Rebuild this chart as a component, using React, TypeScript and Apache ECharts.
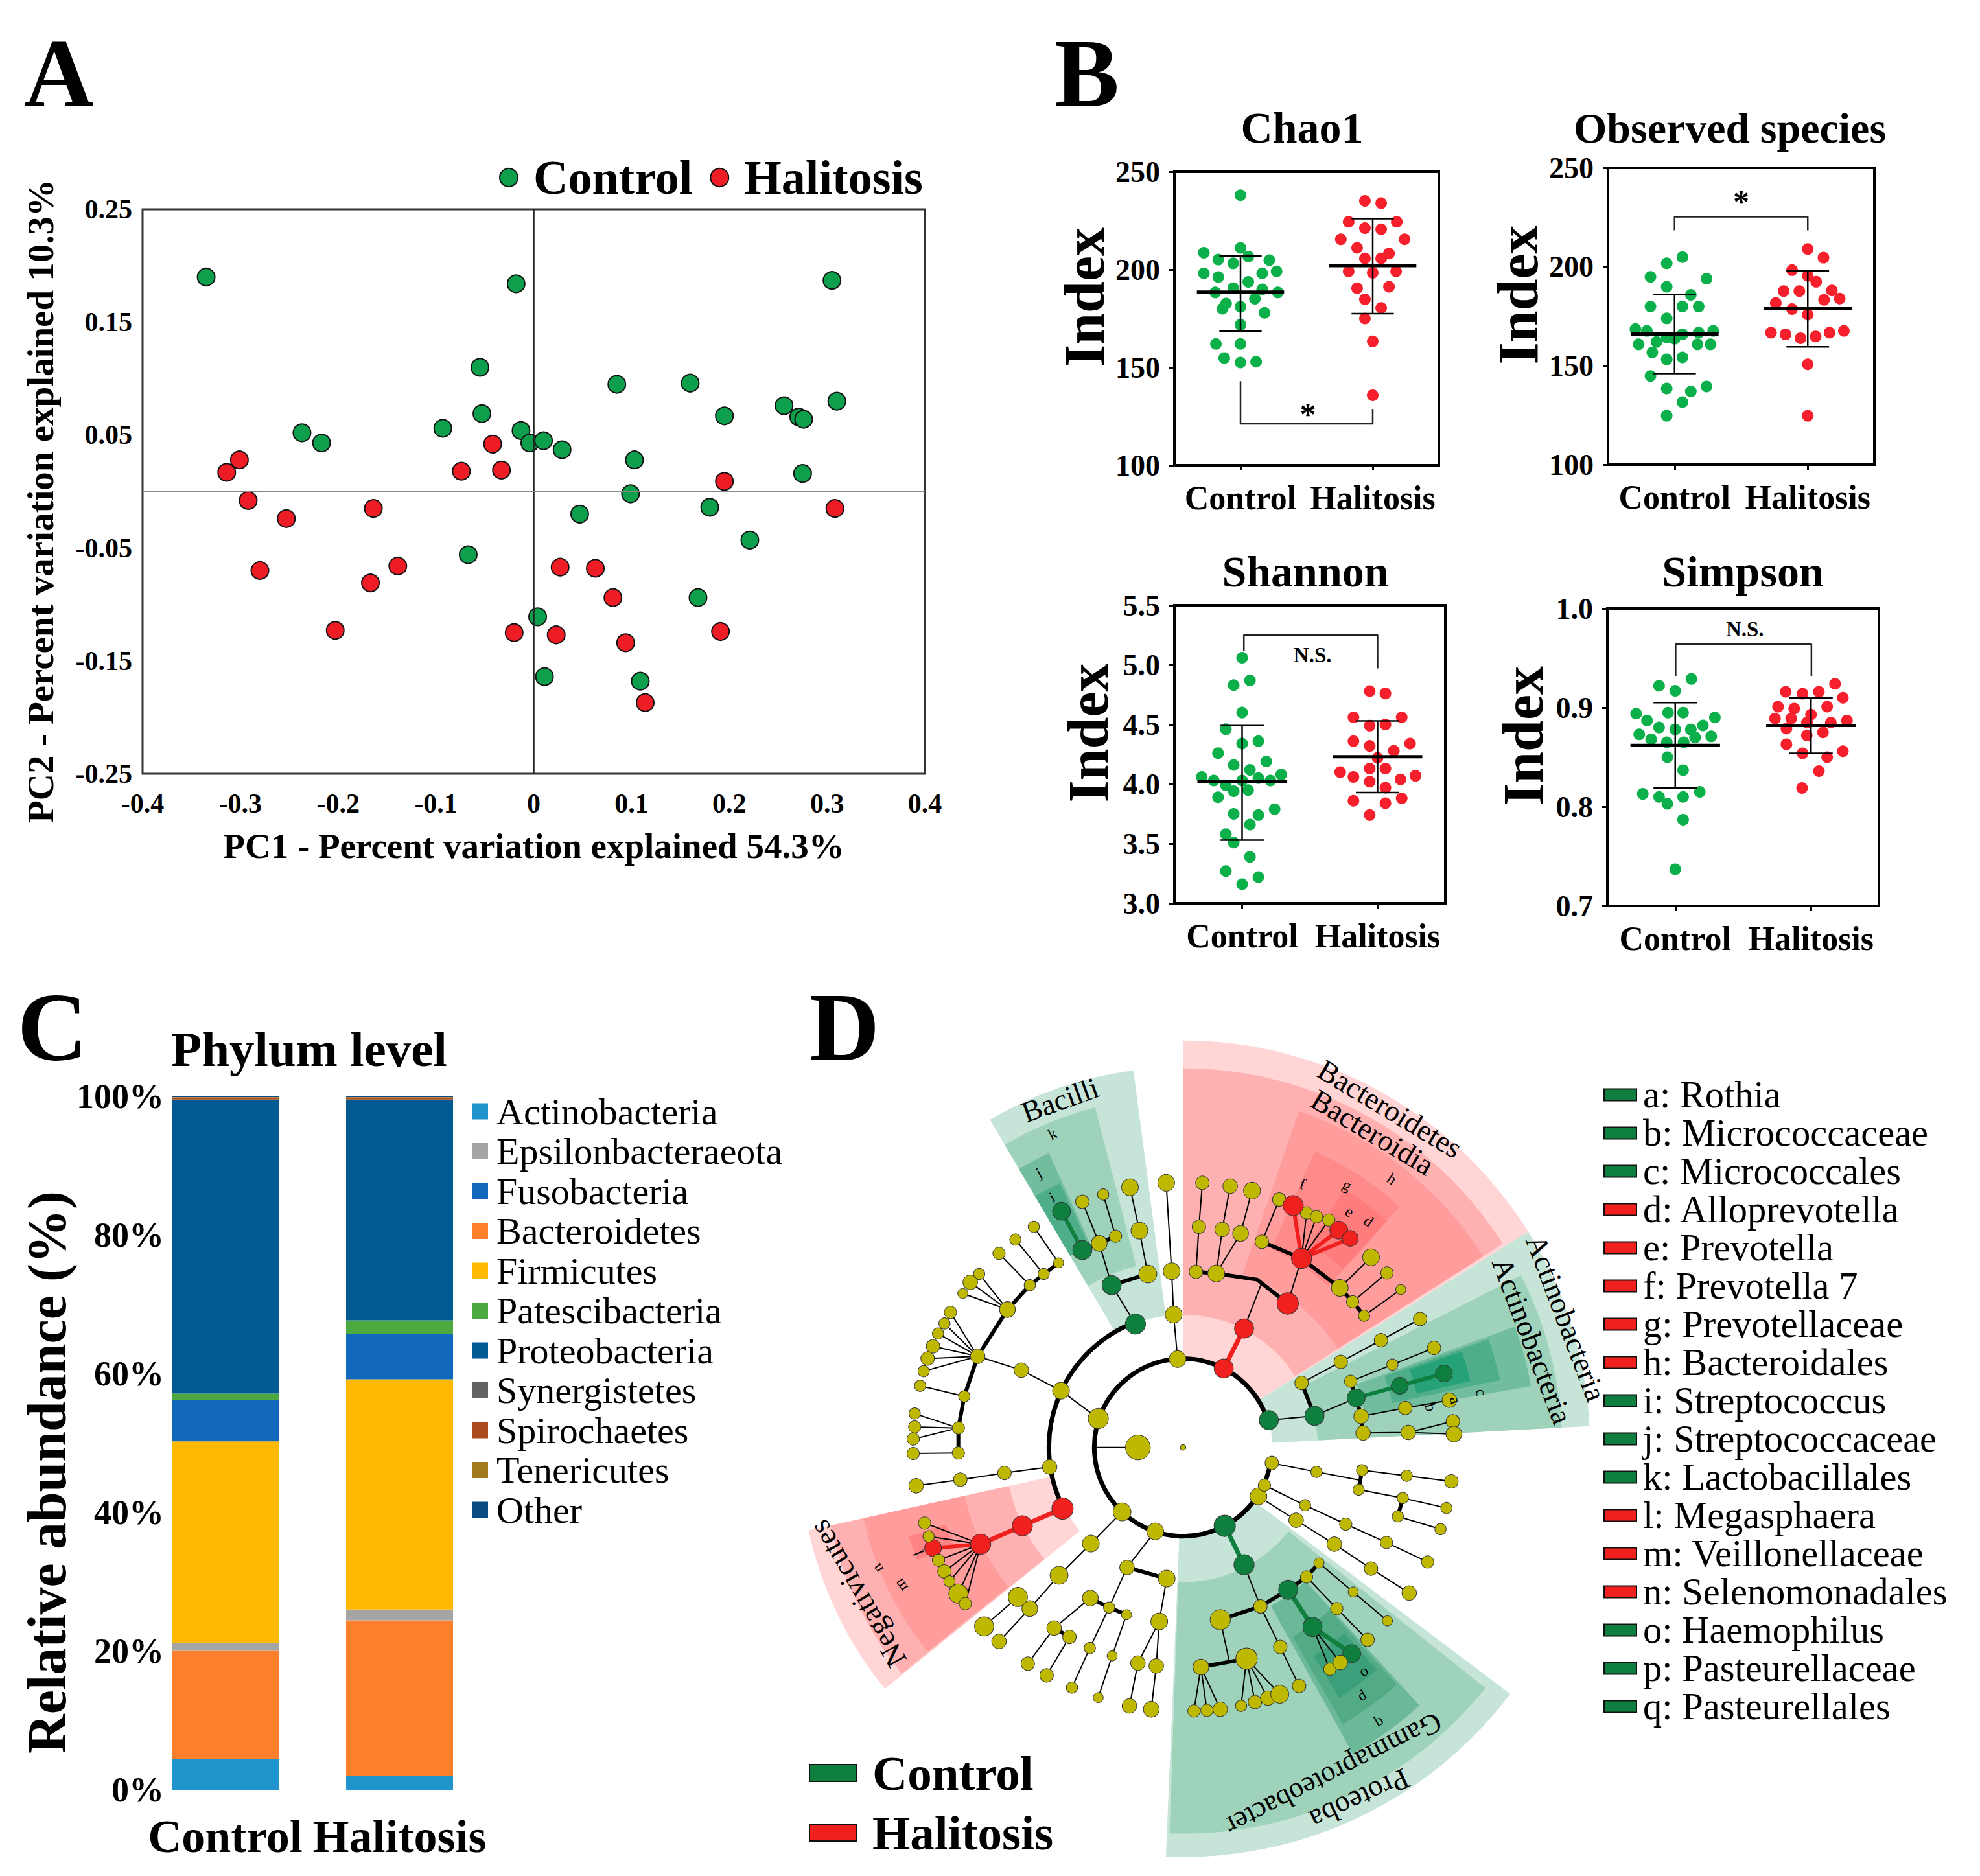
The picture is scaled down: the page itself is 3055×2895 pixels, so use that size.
import React, { useEffect, useRef } from "react";
import * as echarts from "echarts";

const FONT = "Liberation Serif";

// ---------- Panel A: PCoA ----------
const pcoaControl = [[-0.335,0.19],[-0.018,0.184],[0.305,0.187],[-0.055,0.11],[0.085,0.095],[0.16,0.096],[0.256,0.076],[0.31,0.08],[0.271,0.066],[0.276,0.064],[0.195,0.067],[-0.053,0.069],[-0.093,0.056],[-0.013,0.054],[-0.004,0.043],[0.01,0.045],[0.029,0.037],[-0.237,0.052],[-0.217,0.043],[0.103,0.028],[0.275,0.016],[0.099,-0.002],[0.18,-0.014],[0.047,-0.02],[0.221,-0.043],[-0.067,-0.056],[0.168,-0.094],[0.004,-0.111],[0.011,-0.164],[0.109,-0.168]];
const pcoaHalitosis = [[-0.314,0.017],[-0.301,0.028],[-0.292,-0.008],[-0.253,-0.024],[-0.164,-0.015],[-0.28,-0.07],[-0.139,-0.066],[-0.167,-0.081],[-0.203,-0.123],[-0.074,0.018],[-0.042,0.042],[-0.033,0.019],[0.195,0.009],[0.308,-0.015],[0.027,-0.067],[0.063,-0.068],[0.081,-0.094],[-0.02,-0.125],[0.023,-0.127],[0.094,-0.134],[0.191,-0.124],[0.114,-0.187]];

// ---------- Panel B: alpha diversity (jitter offset, value) ----------
const chao1Control = [[0,238],[-0.277,208.6],[-0.168,205.1],[0,211.1],[0.059,206.7],[0.218,204.8],[-0.277,198.1],[-0.168,196.2],[-0.055,203.2],[0.164,198.1],[0.273,199.1],[0.059,193.7],[-0.055,190.5],[-0.191,188.3],[0.164,189.9],[0.282,188.3],[-0.109,182.6],[0,181],[0.109,185.1],[-0.136,180],[0.182,177.9],[0,171.8],[-0.186,162],[0,162],[-0.123,154.8],[0,152.5],[0.118,152.9]];
const chao1Halitosis = [[0.941,235.1],[1.064,233.9],[0.818,224.4],[1.182,224.4],[0.941,221.2],[1.064,220.6],[0.759,215.5],[0.882,211.1],[1.241,215.5],[1.123,208.2],[0.941,205.7],[1.064,205.7],[0.818,199.1],[1,198.4],[1.177,199.1],[0.882,190.5],[1.123,191.2],[0.941,184.8],[1.064,180.4],[0.941,175],[1,163.3],[1,135.8]];
const observedControl = [[0.059,204.9],[-0.059,201.8],[-0.181,194.9],[0.24,194],[-0.059,189.9],[0.122,185.8],[-0.181,179.9],[0.059,179.9],[0.181,179.9],[-0.059,173.9],[-0.294,168.5],[-0.208,167.6],[0.29,167.6],[0.181,166.7],[0.059,165.8],[-0.059,164.2],[-0.27,160.8],[-0.136,162],[0,163.6],[0.172,160.8],[0.27,160.8],[-0.167,156.7],[-0.059,153.2],[0.059,154.2],[-0.181,144.8],[-0.059,138.5],[0.122,137],[0.24,139.5],[0.059,131.6],[-0.059,124.7]];
const observedHalitosis = [[1,209],[1.118,204.6],[0.882,198.3],[1,195.5],[1.063,192.4],[0.819,187.7],[0.937,187.7],[1.181,188],[1.24,183.9],[0.76,181.7],[1.122,183.3],[0.882,178.6],[1,175.8],[0.724,166.7],[0.833,165.8],[0.946,163.9],[1.059,164.8],[1.163,166.7],[1.271,167.6],[1,150.7],[1,124.7]];
const shannonControl = [[0,5.06],[0.058,4.87],[-0.062,4.83],[0,4.6],[-0.12,4.46],[0.12,4.36],[0,4.34],[-0.178,4.26],[-0.062,4.16],[0.178,4.19],[0.058,4.12],[-0.298,4.06],[-0.209,4.03],[0.209,4.03],[0.289,4.08],[0.12,4.05],[0,4.03],[-0.12,3.99],[-0.062,3.94],[0.044,3.95],[-0.178,3.89],[0.24,3.79],[-0.062,3.75],[0.12,3.74],[0.058,3.66],[-0.12,3.58],[-0.062,3.51],[0.058,3.39],[-0.12,3.27],[0.12,3.22],[0,3.16]];
const shannonHalitosis = [[0.942,4.78],[1.058,4.76],[0.822,4.56],[1.178,4.56],[0.942,4.49],[1.058,4.5],[0.822,4.36],[1.24,4.34],[0.942,4.32],[1.12,4.28],[1,4.22],[0.724,4.1],[0.942,4.13],[0.822,4.06],[1.058,4.13],[0.942,4.02],[1.169,4.04],[1.28,4.07],[1.058,3.97],[0.822,3.86],[1.178,3.88],[1.058,3.84],[0.942,3.74]];
const simpsonControl = [[0.119,0.929],[-0.119,0.922],[0,0.917],[-0.288,0.894],[0.292,0.89],[-0.208,0.887],[-0.119,0.88],[0,0.878],[0.115,0.878],[0.204,0.882],[-0.265,0.873],[0.265,0.871],[-0.177,0.868],[-0.062,0.865],[0.062,0.865],[0.146,0.87],[-0.058,0.85],[0.058,0.837],[-0.239,0.813],[-0.119,0.81],[-0.058,0.803],[0.058,0.81],[0.181,0.815],[0.058,0.787],[0,0.737],[-0.053,0.895],[0.058,0.895]];
const simpsonHalitosis = [[1.177,0.924],[0.814,0.916],[0.938,0.914],[1.058,0.916],[1.235,0.91],[0.757,0.901],[0.876,0.899],[1.119,0.901],[1,0.893],[0.735,0.889],[0.854,0.889],[1.265,0.887],[1.146,0.885],[0.97,0.885],[0.819,0.879],[1.088,0.875],[0.969,0.872],[0.819,0.863],[0.938,0.854],[1.119,0.85],[1.235,0.856],[1.058,0.836],[0.934,0.819]];
// mean, lower whisker, upper whisker
const chao1Stats = [[0,188.5,168.5,207],[1,202,177.5,226]];
const observedStats = [[0,166,146,186],[1,179,159.5,198]];
const shannonStats = [[0,4.02,3.53,4.49],[1,4.23,3.93,4.53]];
const simpsonStats = [[0,0.862,0.819,0.905],[1,0.882,0.854,0.91]];
const chao1Bracket = [[0,143],[0,121.2],[1,121.2],[1,128.8]];
const observedBracket = [[0,218.4],[0,225.3],[1,225.3],[1,218.4]];
const shannonBracket = [[0.013,5.12],[0.013,5.25],[1,5.25],[1,4.97]];
const simpsonBracket = [[0.003,0.932],[0.003,0.964],[1.003,0.964],[1.003,0.932]];

// ---------- Panel C: stacked phylum composition ----------
const groups = ["Control", "Halitosis"];
const phylaStack = ["Actinobacteria","Bacteroidetes","Epsilonbacteraeota","Firmicutes","Fusobacteria","Patescibacteria","Proteobacteria","Synergistetes","Spirochaetes","Tenericutes","Other"];
const phylaLegend = ["Actinobacteria","Epsilonbacteraeota","Fusobacteria","Bacteroidetes","Firmicutes","Patescibacteria","Proteobacteria","Synergistetes","Spirochaetes","Tenericutes","Other"];
const phylaValues = {
  Actinobacteria: [4.4, 2.0], Bacteroidetes: [15.65, 22.45], Epsilonbacteraeota: [1.15, 1.55], Firmicutes: [29.05, 33.2],
  Fusobacteria: [5.95, 6.6], Patescibacteria: [0.95, 1.9], Proteobacteria: [42.35, 31.8], Synergistetes: [0.05, 0.05],
  Spirochaetes: [0.3, 0.3], Tenericutes: [0.05, 0.05], Other: [0.1, 0.1],
};
const phylaColors = {
  Actinobacteria: "#1f94cd", Epsilonbacteraeota: "#a5a5a5", Fusobacteria: "#1268bb", Bacteroidetes: "#fd7e2b", Firmicutes: "#ffb900",
  Patescibacteria: "#4ca93f", Proteobacteria: "#015a92", Synergistetes: "#636363", Spirochaetes: "#ab4a1c", Tenericutes: "#a37a1a", Other: "#0b4a83",
};

// ---------- Panel D: cladogram ----------
const cladeLegend = [
  ["a: Rothia","g"],["b: Micrococcaceae","g"],["c: Micrococcales","g"],["d: Alloprevotella","r"],["e: Prevotella","r"],["f: Prevotella 7","r"],
  ["g: Prevotellaceae","r"],["h: Bacteroidales","r"],["i: Streptococcus","g"],["j: Streptococcaceae","g"],["k: Lactobacillales","g"],["l: Megasphaera","r"],
  ["m: Veillonellaceae","r"],["n: Selenomonadales","r"],["o: Haemophilus","g"],["p: Pasteurellaceae","g"],["q: Pasteurellales","g"],
];
// start angle, end angle (deg, counter-clockwise), inner radius, outer radius, colour
const cladeSectors = [
  [32,90,135,628,"#ffd5d5"],[32.5,90,205,585,"#ffb0b0"],[32.5,71,283,549,"#ff9c9c"],[48,66,335,500,"#ff8a8a"],[48,58,370,470,"#ff7c7c"],
  [97.5,120.5,205,587,"#c6e5d8"],[104.5,120.5,289,542,"#9fd2ba"],[114.5,120.5,343,499,"#72bd9e"],[115,120.5,343,450,"#4fae8a"],
  [3,32,138,628,"#c6e5d8"],[3,27,208,585,"#9fd2ba"],[10,20,285,545,"#72bd9e"],[12,19.5,330,500,"#4fae8a"],[13,19,370,455,"#25a277"],
  [-92.4,-37,140,632,"#c6e5d8"],[-92,-38.5,208,596,"#9fd2ba"],[-61,-47.5,280,540,"#6cb99a"],[-60,-48,338,493,"#52ab85"],[-58,-49,380,455,"#3a9f7a"],
  [192.5,219,205,592,"#ffd5d5"],[192.5,218.8,275,557,"#ffb0b0"],[192.5,218.6,345,505,"#ff9c9c"],[198,203,385,445,"#ff8585"],
];
// radius, start angle, end angle
const cladeRings = [[137,17.6,350],[207,111,207]];
// line width, colour key, then polyline vertices
const cladeLinks = [
  [2,"k",780,638,772,558,768,480,757,321],[7,"r",873,655,914,583],[2,"k",914,583,950,500],[5,"k",817,481,858,484,940,495,1002,538],[2,"k",1002,538,1030,457],
  [5,"k",950,427,1030,457,1107,510,1133,535,1156,560],[2,"k",950,427,985,351],[5,"r",1030,457,1013,362],[5,"r",1030,457,1105,406],[5,"r",1030,457,1128,421],
  [2,"k",1030,457,1040,375],[2,"k",1030,457,1060,382],[2,"k",1030,457,1085,388],[2,"k",817,481,823,400,830,321],[2,"k",858,484,870,405,886,327],[2,"k",858,484,907,412,930,335],
  [2,"k",1107,510,1170,455],[2,"k",1133,535,1202,483],[2,"k",1156,560,1230,513],
  [2,"k",695,575,647,505],[5,"k",647,505,720,485],[2,"k",720,485,703,407,684,329],[2,"k",647,505,622,430],[5,"k",588,442,622,430,655,417],[2,"k",622,430,588,355],[2,"k",655,417,630,342],[6,"g",588,442,546,372],
  [2,"k",620,745,545,695,465,658,377,633],[5,"k",338,807,338,762,350,705,377,633,437,549,482,505,540,465],[2,"k",540,465,490,400],[2,"k",510,485,453,423],[2,"k",482,505,420,448],
  [2,"k",437,549,380,485],[2,"k",437,549,362,500],[2,"k",437,549,347,520],[2,"k",377,633,322,554],[2,"k",377,633,310,574],[2,"k",377,633,297,592],[2,"k",377,633,287,615],[2,"k",377,633,276,637],[2,"k",377,633,268,660],
  [2,"k",350,705,261,686],[2,"k",338,762,250,736],[2,"k",338,762,250,760],[2,"k",338,762,247,782],[2,"k",338,807,247,808],[2,"k",612,797,700,797],[2,"k",522,832,431,843,342,855,253,866],
  [7,"r",548,907,467,938,383,971],[6,"r",383,971,287,978],[2,"k",383,971,270,933],[2,"k",383,971,278,957],[2,"k",383,971,298,1000],[2,"k",383,971,310,1020],[2,"k",383,971,320,1038],[2,"k",383,971,338,1060],[2,"k",383,971,352,1078],
  [2,"k",668,913,605,970,541,1027,482,1087,420,1146],[5,"k",458,1066,482,1087],[2,"k",458,1066,390,1119],[2,"k",735,948,678,1013],[5,"k",678,1013,758,1033],[2,"k",758,1033,743,1110,737,1190,727,1268],[2,"k",743,1110,700,1185,683,1262],
  [2,"k",678,1013,642,1085],[5,"k",604,1068,642,1085,677,1098],[2,"k",604,1068,531,1122,478,1186],[5,"k",531,1122,562,1138],[2,"k",562,1138,516,1207],[2,"k",642,1085,603,1158,567,1229],[2,"k",677,1098,648,1172,620,1247],
  [7,"g",875,938,914,1008],[2,"k",914,1008,947,1083],[5,"k",866,1107,947,1083,1003,1053,1040,1030,1065,1005],[2,"k",866,1107,885,1185],[5,"k",827,1192,919,1177],
  [2,"k",827,1192,813,1271],[2,"k",827,1192,839,1270],[2,"k",827,1192,866,1268],[2,"k",919,1177,908,1262],[2,"k",919,1177,936,1255],[2,"k",919,1177,962,1248],[2,"k",919,1177,986,1241],
  [2,"k",947,1083,987,1156,1025,1226],[7,"g",1003,1053,1052,1120,1131,1168],[2,"k",1052,1120,1087,1196],[2,"k",1052,1120,1108,1184],[2,"k",1040,1030,1101,1087,1163,1143],[2,"k",1065,1005,1134,1057,1203,1109],
  [2,"k",943,885,1019,928,1096,971,1170,1015,1247,1059],[2,"k",955,865,1037,901,1119,935,1201,968,1284,1003],[2,"k",970,825,1060,841,1148,856],[2,"k",1152,838,1242,848,1332,858],[5,"k",1152,838,1145,873],
  [2,"k",1145,873,1234,888,1322,906],[5,"k",1234,888,1224,921],[2,"k",1224,921,1310,944],
  [2,"k",964,748,1056,740],[5,"k",1056,740,1030,681],[2,"k",1030,681,1109,643,1190,604,1269,566],[2,"k",1056,740,1140,708],[5,"k",1129,678,1140,708,1150,741,1154,771],[6,"g",1140,708,1228,686,1317,664],
  [2,"k",1129,678,1213,648,1297,618],[2,"k",1150,741,1239,726,1328,712],[2,"k",1154,771,1245,770,1335,750],[2,"k",1245,770,1337,773],
];
// x, y, diameter, colour key
const cladeNodes = [
  [791,797,10,"y"],[700,797,44,"y"],[780,638,30,"y"],[873,655,34,"r"],[964,748,34,"g"],[620,745,36,"y"],[668,913,32,"y"],[735,948,30,"y"],[875,938,38,"g"],[943,885,30,"y"],[955,865,22,"y"],[970,825,24,"y"],
  [772,558,30,"y"],[768,480,30,"y"],[757,321,30,"y"],[914,583,34,"r"],[1002,538,38,"r"],[1030,457,36,"r"],[950,427,24,"y"],[1107,510,30,"y"],[1133,535,22,"y"],[1156,560,20,"y"],
  [985,351,24,"y"],[1040,375,22,"y"],[1060,382,22,"y"],[1085,388,22,"y"],[1013,362,36,"r"],[1105,406,32,"r"],[1128,421,28,"r"],[817,481,24,"y"],[823,400,24,"y"],[830,321,24,"y"],[858,484,30,"y"],[870,405,26,"y"],[886,327,26,"y"],[907,412,28,"y"],[930,335,30,"y"],
  [1170,455,30,"y"],[1202,483,22,"y"],[1230,513,18,"y"],
  [695,575,36,"g"],[647,505,34,"g"],[720,485,32,"y"],[703,407,30,"y"],[684,329,30,"y"],[622,430,28,"y"],[655,417,22,"y"],[630,342,20,"y"],[588,355,24,"y"],[588,442,34,"g"],[546,372,32,"g"],
  [545,695,30,"y"],[465,658,26,"y"],[377,633,26,"y"],[437,549,28,"y"],[482,505,20,"y"],[510,485,20,"y"],[540,465,18,"y"],[350,705,20,"y"],[338,762,22,"y"],[338,807,22,"y"],[490,400,20,"y"],[453,423,20,"y"],[420,448,22,"y"],[380,485,20,"y"],[362,500,26,"y"],[347,520,18,"y"],
  [322,554,22,"y"],[310,574,20,"y"],[297,592,20,"y"],[287,615,24,"y"],[276,637,24,"y"],[268,660,20,"y"],[261,686,20,"y"],[250,736,20,"y"],[250,760,22,"y"],[247,782,22,"y"],[247,808,22,"y"],
  [522,832,26,"y"],[431,843,24,"y"],[342,855,24,"y"],[253,866,26,"y"],[548,907,38,"r"],[467,938,36,"r"],[383,971,36,"r"],[287,978,30,"r"],[270,933,22,"y"],[278,957,20,"y"],[298,1000,22,"y"],[310,1020,24,"y"],[320,1038,20,"y"],[338,1060,34,"y"],[352,1078,22,"y"],
  [605,970,30,"y"],[541,1027,32,"y"],[482,1087,28,"y"],[420,1146,26,"y"],[458,1066,34,"y"],[390,1119,34,"y"],[678,1013,26,"y"],[758,1033,30,"y"],[743,1110,30,"y"],[737,1190,26,"y"],[727,1268,28,"y"],[700,1185,26,"y"],[683,1262,26,"y"],
  [604,1068,28,"y"],[642,1085,20,"y"],[677,1098,18,"y"],[531,1122,26,"y"],[478,1186,24,"y"],[562,1138,24,"y"],[516,1207,24,"y"],[603,1158,20,"y"],[567,1229,20,"y"],[648,1172,18,"y"],[620,1247,18,"y"],
  [914,1008,36,"g"],[947,1083,24,"y"],[866,1107,36,"y"],[1003,1053,34,"g"],[1040,1030,22,"y"],[1065,1005,18,"y"],[827,1192,28,"y"],[919,1177,38,"y"],[813,1271,22,"y"],[839,1270,22,"y"],[866,1268,26,"y"],[908,1262,20,"y"],[936,1255,24,"y"],[962,1248,26,"y"],[986,1241,32,"y"],
  [987,1156,24,"y"],[1025,1226,24,"y"],[1052,1120,34,"g"],[1131,1168,32,"g"],[1087,1196,22,"y"],[1108,1184,26,"y"],[1101,1087,22,"y"],[1163,1143,24,"y"],[1134,1057,18,"y"],[1203,1109,18,"y"],
  [1019,928,26,"y"],[1096,971,26,"y"],[1170,1015,24,"y"],[1247,1059,26,"y"],[1037,901,20,"y"],[1119,935,22,"y"],[1201,968,22,"y"],[1284,1003,22,"y"],[1060,841,20,"y"],[1152,838,20,"y"],[1242,848,20,"y"],[1332,858,24,"y"],[1145,873,20,"y"],[1234,888,20,"y"],[1322,906,20,"y"],[1224,921,20,"y"],[1310,944,20,"y"],
  [1056,740,34,"g"],[1030,681,24,"y"],[1109,643,24,"y"],[1190,604,24,"y"],[1269,566,24,"y"],[1140,708,32,"g"],[1228,686,30,"g"],[1317,664,30,"g"],[1129,678,22,"y"],[1150,741,26,"y"],[1154,771,26,"y"],[1213,648,20,"y"],[1297,618,24,"y"],[1239,726,24,"y"],[1328,712,26,"y"],[1245,770,26,"y"],[1335,750,24,"y"],[1337,773,28,"y"],
];
// x, y, text, rotation (deg), font size
const cladeLabels = [
  [1208,188,"Bacteroidetes",-31,46],[1173,230,"Bacteroidia",-31,46],[543,172,"Bacilli",20,46],[1563,564,"Actinobacteria",-69,46],[1495,605,"Actinobacteria",-69,46],
  [1095,1385,"Gammaproteobacter",207,45],[1147,1430,"Proteoba",205,46],[135,1060,"Negativicutes",120,46],
  [1340,712,"a",-74,24],[1290,725,"b",-74,24],[1392,698,"c",-74,24],[1165,390,"d",-35,24],[1127,373,"e",-35,24],[1032,323,"f",-20,24],[1122,325,"g",-28,24],[1212,314,"h",-35,24],
  [527,347,"i",28,24],[500,303,"j",28,24],[528,233,"k",28,24],[258,987,"l",113,24],[222,1045,"m",125,24],[175,1015,"n",125,24],[1158,1204,"o",210,24],[1155,1248,"p",210,24],[1188,1293,"q",210,24],
];
const KEY_COLORS = { k: "#000", r: "#f0201f", g: "#0f7f3f", y: "#bfb800" };

const GREEN = "#0cb04a";
const RED = "#f5202b";

function textSeries(rows: any[], xAxisIndex: number, yAxisIndex: number, bold = false) {
  return {
    type: "custom", coordinateSystem: "cartesian2d", xAxisIndex, yAxisIndex, z: 8, silent: true, clip: false,
    encode: { x: 0, y: 1 },
    data: rows.map((r) => [r[0], r[1]]),
    renderItem: (params: any, api: any) => {
      const r = rows[params.dataIndex];
      const p = api.coord([api.value(0), api.value(1)]);
      return {
        type: "text", x: p[0], y: p[1], rotation: ((r[3] || 0) * Math.PI) / 180,
        style: { text: r[2], fontFamily: FONT, fontSize: r[4], fontWeight: bold ? "bold" : "normal", fill: "#000", textAlign: "center", textVerticalAlign: "middle" },
      };
    },
  };
}

function statsSeries(rows: number[][], xAxisIndex: number, yAxisIndex: number) {
  return {
    type: "custom", coordinateSystem: "cartesian2d", xAxisIndex, yAxisIndex, z: 5, silent: true,
    encode: { x: 0, y: 1 },
    data: rows,
    renderItem: (_: any, api: any) => {
      const x = api.value(0), m = api.value(1), lo = api.value(2), hi = api.value(3);
      const seg = (a: number[], b: number[], w: number) => {
        const p = api.coord(a), q = api.coord(b);
        return { type: "line", shape: { x1: p[0], y1: p[1], x2: q[0], y2: q[1] }, style: { stroke: "#000", lineWidth: w } };
      };
      return {
        type: "group",
        children: [
          seg([x, lo], [x, hi], 2.5), seg([x - 0.16, hi], [x + 0.16, hi], 2.5), seg([x - 0.16, lo], [x + 0.16, lo], 2.5), seg([x - 0.33, m], [x + 0.33, m], 5),
        ],
      };
    },
  };
}

function buildOption() {
  const title: any[] = [];
  const grid: any[] = [];
  const xAxis: any[] = [];
  const yAxis: any[] = [];
  const series: any[] = [];
  const legend: any[] = [];

  const addTitle = (text: string, left: number, top: number, fontSize: number) =>
    title.push({ text, left, top, textAlign: "center", textVerticalAlign: "middle", textStyle: { fontFamily: FONT, fontWeight: "bold", fontSize, color: "#000" } });
  addTitle("A", 86, 108, 150);
  addTitle("B", 1672, 108, 150);
  addTitle("C", 76, 1580, 150);
  addTitle("D", 1298, 1580, 150);
  addTitle("Phylum level", 472, 1614, 77);

  // ---- A ----
  grid.push({ left: 220, top: 323, width: 1207, height: 871, show: true, borderColor: "#333", borderWidth: 3, backgroundColor: "transparent" });
  xAxis.push({
    type: "value", gridIndex: 0, min: -0.4, max: 0.4, interval: 0.1, splitLine: { show: false }, axisLine: { show: false, onZero: false }, axisTick: { show: false },
    axisLabel: { margin: 25, fontFamily: FONT, fontWeight: "bold", fontSize: 42, color: "#000", showMinLabel: true, showMaxLabel: true, formatter: (v: number) => (Math.abs(v) < 1e-6 ? "0" : v.toFixed(1)) },
    name: "PC1 - Percent variation explained 54.3%", nameLocation: "middle", nameGap: 84, nameTextStyle: { fontFamily: FONT, fontWeight: "bold", fontSize: 55, color: "#000" },
  });
  yAxis.push({
    type: "value", gridIndex: 0, min: -0.25, max: 0.25, interval: 0.05, splitLine: { show: false }, axisLine: { show: false, onZero: false }, axisTick: { show: false },
    axisLabel: { margin: 16, fontFamily: FONT, fontWeight: "bold", fontSize: 42, color: "#000", formatter: (v: number) => (Math.round(v * 100) % 10 === 0 ? "" : v.toFixed(2)) },
    name: "PC2 - Percent variation explained 10.3%", nameLocation: "middle", nameGap: 129, nameTextStyle: { fontFamily: FONT, fontWeight: "bold", fontSize: 57, color: "#000", padding: [0, 30, 0, 0] },
  });
  const pcoa = (name: string, data: number[][], color: string) => ({
    name, type: "scatter", xAxisIndex: 0, yAxisIndex: 0, data, symbolSize: 27, z: 4,
    itemStyle: { color, borderColor: "#111", borderWidth: 2, opacity: 1 },
  });
  series.push({
    ...pcoa("Control", pcoaControl, "#0e9f4d"),
    markLine: {
      silent: true, symbol: "none", label: { show: false }, animation: false,
      data: [{ xAxis: 0, lineStyle: { color: "#222", width: 2.5, type: "solid" } }, { yAxis: 0, lineStyle: { color: "#888", width: 2.5, type: "solid" } }],
    },
  });
  series.push(pcoa("Halitosis", pcoaHalitosis, "#ee1c25"));
  legend.push({
    data: ["Control", "Halitosis"].map((n) => ({ name: n, icon: "circle" })), left: 765, top: 232, orient: "horizontal", selectedMode: false, itemWidth: 28, itemHeight: 28, itemGap: 27,
    textStyle: { fontFamily: FONT, fontWeight: "bold", fontSize: 74, color: "#000", padding: [0, 0, 0, 19] },
  });

  // ---- B ----
  const panels = [
    { name: "Chao1", l: 1812, r: 2220, t: 265, b: 718, min: 100, max: 250, step: 50, digits: 0, c: chao1Control, h: chao1Halitosis, s: chao1Stats, br: chao1Bracket, gap: 94, mark: "*", mx: 0.51, my: 126, tx: 2004, ty: 192, ts: 68 },
    { name: "Observed species", l: 2481, r: 2892, t: 259, b: 717, min: 100, max: 250, step: 50, digits: 0, c: observedControl, h: observedHalitosis, s: observedStats, br: observedBracket, gap: 95, mark: "*", mx: 0.5, my: 233, tx: 2664, ty: 192, ts: 66 },
    { name: "Shannon", l: 1812, r: 2230, t: 934, b: 1394, min: 3, max: 5.5, step: 0.5, digits: 1, c: shannonControl, h: shannonHalitosis, s: shannonStats, br: shannonBracket, gap: 89, mark: "N.S.", mx: 0.52, my: 5.08, tx: 2009, ty: 877, ts: 68 },
    { name: "Simpson", l: 2480, r: 2899, t: 939, b: 1398, min: 0.7, max: 1, step: 0.1, digits: 1, c: simpsonControl, h: simpsonHalitosis, s: simpsonStats, br: simpsonBracket, gap: 86, mark: "N.S.", mx: 0.513, my: 0.979, tx: 2684, ty: 877, ts: 68 },
  ];
  panels.forEach((p) => {
    const g = grid.length;
    grid.push({ left: p.l, top: p.t, width: p.r - p.l, height: p.b - p.t, show: true, borderColor: "#000", borderWidth: 4, backgroundColor: "transparent" });
    addTitle(p.name, p.tx, p.ty, p.ts);
    xAxis.push({
      type: "category", gridIndex: g, data: groups, axisTick: { show: true, alignWithLabel: true, length: 8, lineStyle: { color: "#000", width: 3 } }, axisLine: { onZero: false, lineStyle: { color: "#000", width: 4 } },
      axisLabel: { margin: 24, interval: 0, fontFamily: FONT, fontWeight: "bold", fontSize: 52, color: "#000" },
    });
    const val = xAxis.length;
    xAxis.push({ type: "value", gridIndex: g, min: -0.5, max: 1.5, show: false, splitLine: { show: false }, axisLine: { onZero: false } });
    const y = yAxis.length;
    yAxis.push({
      type: "value", gridIndex: g, min: p.min, max: p.max, interval: p.step, splitLine: { show: false }, axisLine: { show: true, onZero: false, lineStyle: { color: "#000", width: 4 } },
      axisTick: { show: true, length: 8, lineStyle: { color: "#000", width: 3 } },
      axisLabel: { margin: 22, fontFamily: FONT, fontWeight: "bold", fontSize: 46, color: "#000", formatter: (v: number) => v.toFixed(p.digits) },
      name: "Index", nameLocation: "middle", nameGap: p.gap, nameTextStyle: { fontFamily: FONT, fontWeight: "bold", fontSize: 88, color: "#000", padding: [0, 0, 0, 66] },
    });
    series.push({ name: p.name + " Control", type: "scatter", xAxisIndex: val, yAxisIndex: y, data: p.c, symbolSize: 18, z: 3, itemStyle: { color: GREEN, opacity: 1 } });
    series.push({ name: p.name + " Halitosis", type: "scatter", xAxisIndex: val, yAxisIndex: y, data: p.h, symbolSize: 18, z: 3, itemStyle: { color: RED, opacity: 1 } });
    series.push(statsSeries(p.s, val, y));
    series.push({ type: "line", xAxisIndex: val, yAxisIndex: y, data: p.br, showSymbol: false, symbol: "none", silent: true, lineStyle: { color: "#222", width: 2.5 }, z: 4 });
    series.push(textSeries([[p.mx, p.my, p.mark, 0, p.mark === "*" ? 50 : 33]], val, y, true));
  });

  // ---- C ----
  const cg = grid.length;
  grid.push({ left: 213, top: 1692, width: 538, height: 1070 });
  xAxis.push({
    type: "category", gridIndex: cg, data: groups, axisLine: { show: false }, axisTick: { show: false },
    axisLabel: { margin: 36, interval: 0, fontFamily: FONT, fontWeight: "bold", fontSize: 72, color: "#000" },
  });
  const cx = xAxis.length - 1;
  yAxis.push({
    type: "value", gridIndex: cg, min: 0, max: 100, interval: 20, splitLine: { show: false }, axisLine: { show: false }, axisTick: { show: false }, offset: -36,
    axisLabel: { margin: -4, fontFamily: FONT, fontWeight: "bold", fontSize: 54, color: "#000", formatter: "{value}%" },
    name: "Relative abundance (%)", nameLocation: "middle", nameGap: 135, nameTextStyle: { fontFamily: FONT, fontWeight: "bold", fontSize: 84, color: "#000", padding: [0, 90, 0, 0] },
  });
  const cy = yAxis.length - 1;
  phylaStack.forEach((n) => {
    series.push({ name: n, type: "bar", xAxisIndex: cx, yAxisIndex: cy, stack: "phylum", barWidth: 165, data: (phylaValues as any)[n], itemStyle: { color: (phylaColors as any)[n] } });
  });
  legend.push({
    data: phylaLegend, left: 723, top: 1680, orient: "vertical", selectedMode: false, icon: "rect", itemWidth: 25, itemHeight: 25, itemGap: 1.5,
    textStyle: { fontFamily: FONT, fontSize: 58, color: "#000", lineHeight: 60, padding: [0, 0, 0, 8] },
  });

  // ---- D ----
  const dg = grid.length;
  grid.push({ left: 1220, top: 1550, width: 1200, height: 1345 });
  xAxis.push({ type: "value", gridIndex: dg, min: 0, max: 1568, show: false, splitLine: { show: false } });
  yAxis.push({ type: "value", gridIndex: dg, min: 0, max: 1568, inverse: true, show: false, splitLine: { show: false } });
  const dx = xAxis.length - 1, dy = yAxis.length - 1;
  const CENTER = [791, 797];
  const rad = (d: number) => (d * Math.PI) / 180;
  series.push({
    type: "custom", coordinateSystem: "cartesian2d", xAxisIndex: dx, yAxisIndex: dy, z: 1, silent: true, clip: false,
    data: cladeSectors.map((s, i) => [CENTER[0], CENTER[1], i]), encode: { x: 0, y: 1 },
    renderItem: (params: any, api: any) => {
      const s = cladeSectors[params.dataIndex] as any[];
      const c = api.coord(CENTER);
      return { type: "sector", shape: { cx: c[0], cy: c[1], r0: s[2], r: s[3], startAngle: rad(-s[1]), endAngle: rad(-s[0]), clockwise: true }, style: { fill: s[4] } };
    },
  });
  series.push({
    type: "custom", coordinateSystem: "cartesian2d", xAxisIndex: dx, yAxisIndex: dy, z: 2, silent: true, clip: false,
    data: cladeRings.map((s, i) => [CENTER[0], CENTER[1], i]), encode: { x: 0, y: 1 },
    renderItem: (params: any, api: any) => {
      const s = cladeRings[params.dataIndex];
      const c = api.coord(CENTER);
      return { type: "arc", shape: { cx: c[0], cy: c[1], r: s[0], startAngle: rad(-s[2]), endAngle: rad(-s[1]), clockwise: true }, style: { stroke: "#000", lineWidth: 7, fill: "none" } };
    },
  });
  series.push({
    type: "custom", coordinateSystem: "cartesian2d", xAxisIndex: dx, yAxisIndex: dy, z: 3, silent: true, clip: false,
    data: cladeLinks.map((l) => [l[2], l[3]]), encode: { x: 0, y: 1 },
    renderItem: (params: any, api: any) => {
      const l = cladeLinks[params.dataIndex] as any[];
      const points: number[][] = [];
      for (let i = 2; i < l.length; i += 2) points.push(api.coord([l[i], l[i + 1]]));
      return { type: "polyline", shape: { points }, style: { stroke: (KEY_COLORS as any)[l[1]], lineWidth: l[0] === 5 ? 6 : l[0], fill: "none", lineJoin: "round" } };
    },
  });
  series.push({
    type: "scatter", xAxisIndex: dx, yAxisIndex: dy, z: 5, silent: true, clip: false,
    data: cladeNodes.map((n) => ({ value: [n[0], n[1]], symbolSize: (n[2] as number) / 1.15, itemStyle: { color: (KEY_COLORS as any)[n[3]], borderColor: "#333", borderWidth: 1, opacity: 1 } })),
  });
  series.push(textSeries(cladeLabels, dx, dy));

  // legends for D
  cladeLegend.forEach((c) => series.push({ name: c[0], type: "scatter", xAxisIndex: dx, yAxisIndex: dy, data: [], itemStyle: { color: (KEY_COLORS as any)[c[1]], opacity: 1 } }));
  legend.push({
    data: cladeLegend.map((c) => ({ name: c[0], icon: "rect", itemStyle: { color: (KEY_COLORS as any)[c[1]], borderColor: "#111", borderWidth: 2, opacity: 1 } })),
    left: 2469, top: 1655, orient: "vertical", selectedMode: false, itemWidth: 50, itemHeight: 18, itemGap: 0,
    textStyle: { fontFamily: FONT, fontSize: 58.5, color: "#000", lineHeight: 58, padding: [0, 0, 0, 5] },
  });
  legend.push({
    data: [
      { name: "Control", icon: "rect", itemStyle: { color: KEY_COLORS.g, borderColor: "#111", borderWidth: 2, opacity: 1 } },
      { name: "Halitosis", icon: "rect", itemStyle: { color: KEY_COLORS.r, borderColor: "#111", borderWidth: 2, opacity: 1 } },
    ],
    left: 1243, top: 2686, orient: "vertical", selectedMode: false, itemWidth: 73, itemHeight: 26, itemGap: 2,
    textStyle: { fontFamily: FONT, fontWeight: "bold", fontSize: 75, color: "#000", lineHeight: 90, padding: [0, 0, 0, 19] },
  });

  return { animation: false, backgroundColor: "#fff", textStyle: { fontFamily: FONT }, title, grid, xAxis, yAxis, series, legend };
}

export default function App() {
  const ref = useRef<HTMLDivElement>(null);
  useEffect(() => {
    document.body.style.margin = "0";
    const chart = echarts.init(ref.current as HTMLDivElement, undefined, { renderer: "svg" });
    chart.setOption(buildOption() as any);
    return () => chart.dispose();
  }, []);
  return <div ref={ref} style={{ width: 3055, height: 2895 }} />;
}
